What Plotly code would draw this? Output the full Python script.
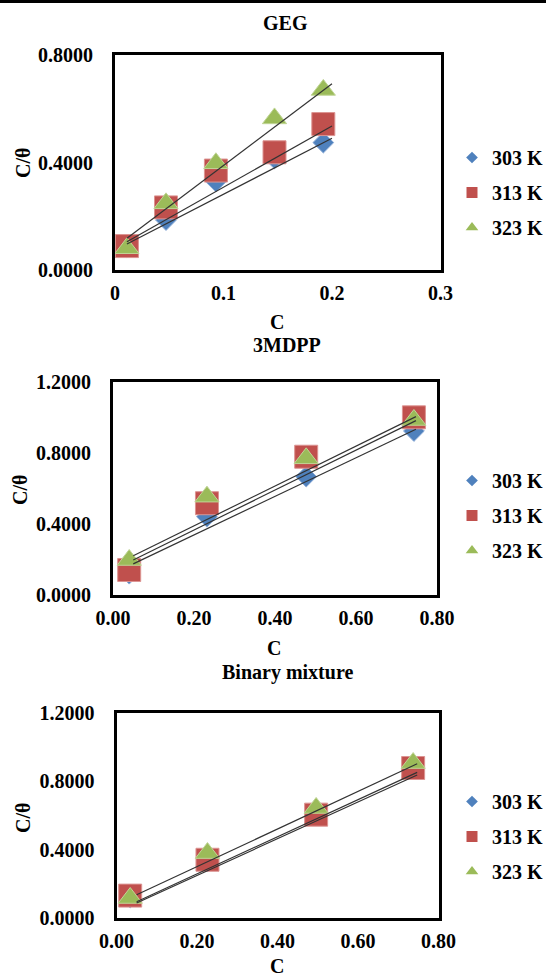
import numpy as np
import plotly.graph_objects as go

W, H = 546, 976

series_names = ["303 K", "313 K", "323 K"]
colors = ["#4F81BD", "#C0504D", "#9BBB59"]
edge_colors = ["#8EADD8", "#DC9492", "#C0D596"]
symbols = ["diamond", "square", "triangle-up"]
sizes = [16, 23, 21]
legend_sizes = [9, 11, 11]

panel_titles = ["GEG", "3MDPP", "Binary mixture"]

# measured points (C, C/theta)
geg_c = [0.011, 0.047, 0.093, 0.147, 0.192]
geg_303 = [0.085, 0.186, 0.329, 0.415, 0.474]
geg_313 = [0.089, 0.233, 0.370, 0.438, 0.543]
geg_323 = [0.081, 0.248, 0.397, 0.564, 0.670]

mdpp_c = [0.040, 0.232, 0.477, 0.743]
mdpp_303 = [0.120, 0.441, 0.667, 0.924]
mdpp_313 = [0.141, 0.517, 0.779, 1.001]
mdpp_323 = [0.197, 0.554, 0.770, 0.986]

mix_c = [0.034, 0.226, 0.496, 0.737]
mix_303 = [0.120, 0.330, 0.600, 0.870]
mix_313 = [0.131, 0.341, 0.605, 0.878]
mix_323 = [0.117, 0.380, 0.644, 0.907]

# linear trendlines: slope, intercept, C-range
geg_slope = [2.08, 2.28, 3.04]
geg_intercept = [0.074, 0.080, 0.085]
geg_trend_c = [0.011, 0.200]

mdpp_slope = [1.087, 1.125, 1.123]
mdpp_intercept = [0.121, 0.141, 0.165]
mdpp_trend_c = [0.050, 0.748]

mix_slope = [1.075, 1.086, 1.100]
mix_intercept = [0.034, 0.041, 0.081]
mix_trend_c = [0.050, 0.747]

geg_xticks = [0, 0.1, 0.2, 0.3]
conc_xticks = [0.0, 0.2, 0.4, 0.6, 0.8]
geg_yticks = [0.0, 0.4, 0.8]
conc_yticks = [0.0, 0.4, 0.8, 1.2]

panels = [
    dict(c=geg_c, ys=[geg_303, geg_313, geg_323], sl=geg_slope, ic=geg_intercept,
         tc=geg_trend_c, xt=geg_xticks, yt=geg_yticks,
         xr=[0, 0.3], yr=[0, 0.8], xfmt="", box=(115, 440.5, 55, 270),
         title=(285, 23), xtitle=(277, 322), ytitle=(23, 163), leg=138),
    dict(c=mdpp_c, ys=[mdpp_303, mdpp_313, mdpp_323], sl=mdpp_slope, ic=mdpp_intercept,
         tc=mdpp_trend_c, xt=conc_xticks, yt=conc_yticks,
         xr=[0, 0.8], yr=[0, 1.2], xfmt=".2f", box=(113, 437, 382, 595),
         title=(287, 345), xtitle=(274, 648), ytitle=(20, 490), leg=461),
    dict(c=mix_c, ys=[mix_303, mix_313, mix_323], sl=mix_slope, ic=mix_intercept,
         tc=mix_trend_c, xt=conc_xticks, yt=conc_yticks,
         xr=[0, 0.8], yr=[0, 1.2], xfmt=".2f", box=(116.5, 438.5, 713, 918),
         title=(287, 672), xtitle=(277, 966), ytitle=(23, 818), leg=782),
]

FONT = "Liberation Serif"

def px(x):
    return x / W

def py(y):
    return 1 - y / H

fig = go.Figure()
layout = dict(
    width=W, height=H, margin=dict(l=0, r=0, t=0, b=0, autoexpand=False),
    paper_bgcolor="white", plot_bgcolor="white",
    font=dict(family=FONT, size=20, color="black", weight="bold"),
    annotations=[], shapes=[],
)

for i, p in enumerate(panels):
    k = "" if i == 0 else str(i + 1)
    xa, ya = "x" + k, "y" + k
    leg = "legend" + k
    for j in range(3):
        fig.add_trace(go.Scatter(
            x=p["c"], y=p["ys"][j], mode="markers", name=series_names[j],
            xaxis=xa, yaxis=ya, showlegend=False, legendgroup=f"{i}-{j}",
            marker=dict(symbol=symbols[j], size=sizes[j], color=colors[j],
                        line=dict(color=edge_colors[j], width=1)),
        ))
    for j in range(3):
        xl = np.array(p["tc"])
        fig.add_trace(go.Scatter(
            x=xl, y=p["sl"][j] * xl + p["ic"][j], mode="lines", showlegend=False,
            hoverinfo="skip", xaxis=xa, yaxis=ya,
            line=dict(color="#333333", width=1.2),
        ))
    # legend entries (smaller symbols, as in the original legend)
    for j in range(3):
        fig.add_trace(go.Scatter(
            x=[None], y=[None], mode="markers", name=series_names[j],
            xaxis=xa, yaxis=ya, legend=leg, legendgroup=f"{i}-{j}", showlegend=True,
            marker=dict(symbol=symbols[j], size=legend_sizes[j], color=colors[j]),
        ))
    x0, x1, y0, y1 = p["box"]
    layout["xaxis" + k] = dict(
        domain=[px(x0), px(x1)], range=p["xr"], anchor=ya,
        tickvals=p["xt"], tickformat=p["xfmt"], showgrid=False, zeroline=False,
        showline=True, mirror=True, linewidth=3, linecolor="black", ticks="",
        ticklabelstandoff=3,
        tickfont=dict(family=FONT, size=20, color="black", weight="bold"),
    )
    layout["yaxis" + k] = dict(
        domain=[py(y1), py(y0)], range=p["yr"], anchor=xa,
        tickvals=p["yt"], tickformat=".4f", showgrid=False, zeroline=False,
        showline=True, mirror=True, linewidth=3, linecolor="black", ticks="",
        ticklabelstandoff=15,
        tickfont=dict(family=FONT, size=20, color="black", weight="bold"),
    )
    layout["legend" + k] = dict(
        x=px(452), y=py(p["leg"]), xanchor="left", yanchor="top",
        bgcolor="rgba(0,0,0,0)", borderwidth=0, tracegroupgap=6,
        traceorder="grouped", itemsizing="trace", itemwidth=30,
        font=dict(family=FONT, size=20, color="black", weight="bold"),
    )
    tx, ty = p["title"]
    layout["annotations"].append(dict(
        text=panel_titles[i], x=px(tx), y=py(ty), xref="paper", yref="paper",
        xanchor="center", yanchor="middle", showarrow=False,
        font=dict(family=FONT, size=20, color="black", weight="bold")))
    tx, ty = p["xtitle"]
    layout["annotations"].append(dict(
        text="C", x=px(tx), y=py(ty), xref="paper", yref="paper",
        xanchor="center", yanchor="middle", showarrow=False,
        font=dict(family=FONT, size=20, color="black", weight="bold")))
    tx, ty = p["ytitle"]
    layout["annotations"].append(dict(
        text="C/θ", x=px(tx), y=py(ty), xref="paper", yref="paper",
        xanchor="center", yanchor="middle", showarrow=False, textangle=-90,
        font=dict(family=FONT, size=20, color="black", weight="bold")))

layout["shapes"].append(dict(
    type="rect", xref="paper", yref="paper", x0=0, x1=1, y0=py(3), y1=1,
    fillcolor="black", line=dict(width=0)))

fig.update_layout(**layout)
fig.write_html("out.html")
